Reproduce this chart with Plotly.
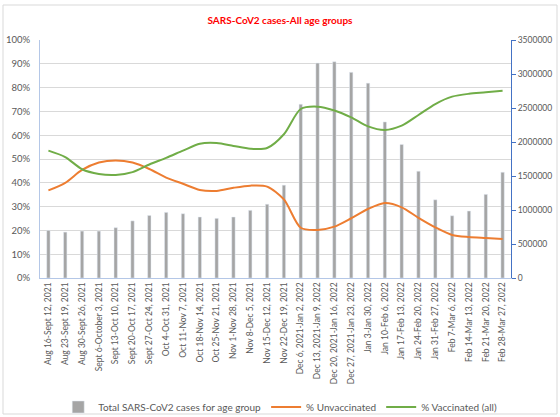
import plotly.graph_objects as go

# ── Data ──────────────────────────────────────────────────────────────────────
weeks = [
    "Aug 16-Sept 12, 2021", "Aug 23-Sept 19, 2021", "Aug 30-Sept 26, 2021",
    "Sept 6-October 3, 2021", "Sept 13-Oct 10, 2021", "Sept 20-Oct 17, 2021",
    "Sept 27-Oct 24, 2021", "Oct 4-Oct 31, 2021", "Oct 11-Nov 7, 2021",
    "Oct 18-Nov 14, 2021", "Oct 25-Nov 21, 2021", "Nov 1-Nov 28, 2021",
    "Nov 8-Dec 5, 2021", "Nov 15-Dec 12, 2021", "Nov 22-Dec 19, 2021",
    "Dec 6, 2021-Jan 2, 2022", "Dec 13, 2021-Jan 9, 2022",
    "Dec 20, 2021-Jan 16, 2022", "Dec 27, 2021-Jan 23, 2022",
    "Jan 3-Jan 30, 2022", "Jan 10-Feb 6, 2022", "Jan 17-Feb 13, 2022",
    "Jan 24-Feb 20, 2022", "Jan 31-Feb 27, 2022", "Feb 7-Mar 6, 2022",
    "Feb 14-Mar 13, 2022", "Feb 21-Mar 20, 2022", "Feb 28-Mar 27, 2022",
]

total_cases = [
    700000, 675000, 690000, 690000, 740000, 840000, 920000, 965000,
    945000, 897000, 877000, 897000, 995000, 1085000, 1365000, 2555000,
    3160000, 3180000, 3025000, 2865000, 2295000, 1965000, 1570000,
    1150000, 915000, 985000, 1230000, 1555000,
]

pct_unvaccinated = [
    0.368, 0.400, 0.454, 0.485, 0.494, 0.485, 0.458, 0.422, 0.396, 0.370,
    0.366, 0.379, 0.388, 0.384, 0.330, 0.211, 0.202, 0.216, 0.251, 0.290,
    0.315, 0.297, 0.253, 0.213, 0.181, 0.172, 0.168, 0.164,
]

pct_vaccinated = [
    0.535, 0.508, 0.457, 0.437, 0.433, 0.445, 0.477, 0.505, 0.535, 0.564,
    0.567, 0.555, 0.543, 0.546, 0.604, 0.710, 0.720, 0.704, 0.675, 0.637,
    0.622, 0.640, 0.685, 0.731, 0.762, 0.774, 0.780, 0.787,
]

COLORS = {
    "bar":    "#A5A5A5",
    "unvax":  "#ED7D31",
    "vax":    "#70AD47",
    "grid":   "#D9D9D9",
    "text":   "#595959",
    "axis_l": "#B4C7E7",
    "axis_r": "#4472C4",
    "title":  "#FF0000",
}
FONT = "Lato, 'Open Sans', sans-serif"

fig = go.Figure()

# bars on primary axis (right side) so the lines overlay them
fig.add_trace(go.Bar(
    x=weeks, y=total_cases, name="Total SARS-CoV2 cases for age group",
    marker_color=COLORS["bar"], width=0.2, yaxis="y",
))
fig.add_trace(go.Scatter(
    x=weeks, y=pct_unvaccinated, name="% Unvaccinated", mode="lines",
    line=dict(color=COLORS["unvax"], width=2, shape="spline", smoothing=0.8),
    yaxis="y2",
))
fig.add_trace(go.Scatter(
    x=weeks, y=pct_vaccinated, name="% Vaccinated (all)", mode="lines",
    line=dict(color=COLORS["vax"], width=2, shape="spline", smoothing=0.8),
    yaxis="y2",
))

fig.update_layout(
    width=560, height=417,
    margin=dict(l=40, r=49, t=40, b=139, autoexpand=False),
    paper_bgcolor="white", plot_bgcolor="white",
    font=dict(family=FONT, color=COLORS["text"], size=9),
    title=dict(
        text="<b>SARS-CoV2 cases-All age groups</b>",
        x=0.5, xanchor="center", y=0.952, yanchor="middle",
        font=dict(size=10, color=COLORS["title"], family=FONT),
    ),
    showlegend=True,
    legend=dict(
        orientation="h", x=0.51, xanchor="center",
        yref="container", y=0.024, yanchor="middle",
        font=dict(size=10, color=COLORS["text"]),
        bgcolor="rgba(0,0,0,0)", itemwidth=30, traceorder="normal",
    ),
    xaxis=dict(
        type="category", tickangle=-90, tickfont=dict(size=8.5),
        showline=True, linecolor=COLORS["axis_l"], linewidth=1,
        showgrid=False, ticks="", automargin=False,
    ),
    yaxis=dict(
        side="right", range=[0, 3500000], dtick=500000, tickformat="d",
        showgrid=False, zeroline=False,
        showline=True, linecolor=COLORS["axis_r"], linewidth=1,
        ticks="outside", ticklen=4, tickcolor=COLORS["axis_r"],
        tickfont=dict(size=8.5), automargin=False,
    ),
    yaxis2=dict(
        overlaying="y", side="left", range=[0, 1], dtick=0.1,
        tickformat=".0%", showgrid=True, gridcolor=COLORS["grid"],
        zeroline=False, showline=True, linecolor=COLORS["axis_l"],
        linewidth=1, ticks="outside", ticklen=7,
        tickcolor="rgba(0,0,0,0)", tickfont=dict(size=9.5),
        automargin=False,
    ),
    bargap=0.8,
    shapes=[dict(
        type="rect", xref="paper", yref="paper",
        x0=-37 / 471, x1=1 + 46 / 471, y0=-136 / 238, y1=1 + 35 / 238,
        line=dict(color="#D9D9D9", width=1), fillcolor="rgba(0,0,0,0)",
        layer="below",
    )],
)

# drop the browser's default body margin so the figure sits at the page corner
fig.write_html(
    "out.html",
    config={"displayModeBar": False},
    post_script="document.body.style.margin='0';",
)
